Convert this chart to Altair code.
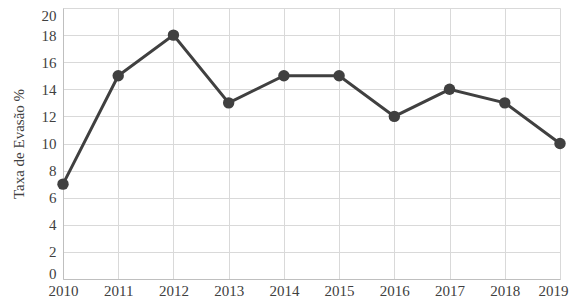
import altair as alt
import pandas as pd

years = [2010, 2011, 2012, 2013, 2014, 2015, 2016, 2017, 2018, 2019]
rates = [7, 15, 18, 13, 15, 15, 12, 14, 13, 10]

df = pd.DataFrame({"ano": years, "taxa": rates})

FONT = "Liberation Serif"

base = alt.Chart(df).encode(
    x=alt.X("ano:Q",
            scale=alt.Scale(domain=[2010, 2019], nice=False, zero=False),
            axis=alt.Axis(values=years, format="d", title=None, ticks=False,
                          labelFont=FONT, labelFontSize=15, labelColor="#404040",
                          labelPadding=4, labelFlush=False,
                          labelOffset=alt.condition("datum.value == 2019", alt.value(-7), alt.value(0)),
                          domainColor="#bfbfbf", gridColor="#d9d9d9",
                          labelOverlap=False)),
    y=alt.Y("taxa:Q",
            scale=alt.Scale(domain=[0, 20], nice=False),
            axis=alt.Axis(values=list(range(0, 21, 2)), title="Taxa de Evasão %", ticks=False,
                          labelFont=FONT, labelFontSize=15, labelColor="#404040",
                          labelBaseline=alt.condition("datum.value == 20", alt.value("top"), alt.value("middle")),
                          labelOffset=alt.condition("datum.value == 0", alt.value(-6), alt.value(0)),
                          labelPadding=7, domainColor="#bfbfbf", gridColor="#d9d9d9",
                          titleFont=FONT, titleFontSize=15, titleFontWeight="normal",
                          titleColor="#404040", titlePadding=15)),
)

line = base.mark_line(color="#404040", strokeWidth=3)
pts = base.mark_circle(color="#404040", opacity=1, size=130)

chart = (line + pts).properties(
    width=497, height=271,
    autosize=alt.AutoSizeParams(type="none"),
    padding={"left": 55, "top": 0, "right": 9, "bottom": 19},
).configure_view(stroke=None)

chart.save("out.html", embed_options={"renderer": "svg", "actions": False})
